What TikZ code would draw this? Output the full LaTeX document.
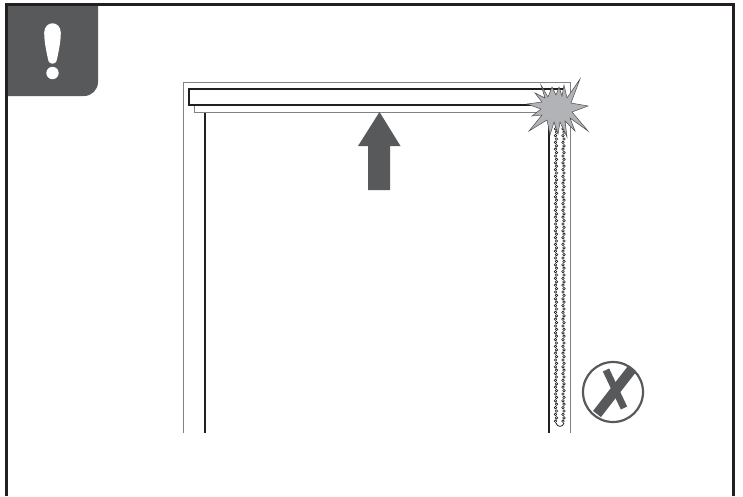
\documentclass[tikz,border=0pt]{standalone}
\usepackage{xcolor}
\usepackage{tikz}
\usetikzlibrary{calc}
\definecolor{framedark}{HTML}{231F20}
\definecolor{badgegrey}{HTML}{58595B}
\definecolor{railgrey}{HTML}{808285}
\definecolor{burstgrey}{HTML}{B1B3B6}
\newcommand{\chainstrand}[1]{% x
  \foreach \k in {0,...,88} {
    \draw[chainlink] ({#1+1.0*mod(\k,2)},{122+3.4*\k}) circle (1.3);
  }%
}
\tikzset{
  outerline/.style={framedark, line width=3pt},
  railline/.style={railgrey, line width=1.2pt},
  blackline/.style={framedark, line width=2pt},
  chainlink/.style={framedark, line width=0.6pt},
  rollerbox/.style={draw=framedark, line width=2pt, fill=white},
  stripbox/.style={draw=railgrey, line width=1.2pt, fill=white},
  burst/.style={draw=framedark!80, line width=0.5pt, fill=burstgrey},
}

\begin{document}
\begin{tikzpicture}[x=1pt,y=-1pt]
  \useasboundingbox (0,0) rectangle (743,496);

  % warning tab
  \fill[badgegrey] (6,4) -- (98,4) -- (98,82) arc[start angle=0, end angle=90, radius=14] -- (6,96) -- cycle;
  \fill[white] (44.2,33) .. controls (44.2,20) and (60.8,20) .. (60.8,33)
    .. controls (60.8,42) and (58,55) .. (56.5,61) .. controls (55.8,64.5) and (49.2,64.5) .. (48.5,61)
    .. controls (47,55) and (44.2,42) .. cycle;
  \fill[white] (52.5,73) circle (6.2);
  \draw[outerline] (6,496) -- (6,4) -- (733,4) -- (733,496);

  % rails
  \draw[railline] (183.5,433) -- (183.5,82.5) -- (570.5,82.5) -- (570.5,433);
  \draw[blackline] (204.5,112) -- (204.5,433);
  \draw[blackline] (549,120) -- (549,433);

  % chain
  \chainstrand{555.5}
  \chainstrand{563}
  \draw[chainlink, line width=0.8pt] (556,423) .. controls (557,427.5) and (563,427.5) .. (564,423);

  % roller
  \draw[stripbox] (194.5,105) rectangle (558,112.5);
  \draw[rollerbox] (188.5,88.5) rectangle (564,105);

  % upward arrow
  \fill[badgegrey] (379.5,112) -- (400.5,146) -- (390,146) -- (390,190) -- (368,190) -- (368,146) -- (358,146) -- cycle;

  % impact
  \draw[burst] (541,85) -- (548,97) -- (552,87) -- (556,95) -- (559,87) -- (562,96) -- (564,85)
    -- (567,98) -- (580,79) -- (571,103) -- (588,106) -- (572,112) -- (588,131) -- (570,118)
    -- (575,131) -- (565,121) -- (567,137) -- (560,122) -- (558,134) -- (554,122) -- (550,135)
    -- (547,120) -- (529,131) -- (542,115) -- (532,116) -- (541,109) -- (527,104) -- (542,102)
    -- (535,93) -- (545,98) -- cycle;

  % not allowed mark
  \draw[badgegrey, line width=2.2pt] (613,392) circle (30);
  \draw[badgegrey, line width=7pt] (606,370) -- (624,408);
  \draw[badgegrey, line width=10pt] (632,369) -- (597,414);
\end{tikzpicture}
\end{document}
